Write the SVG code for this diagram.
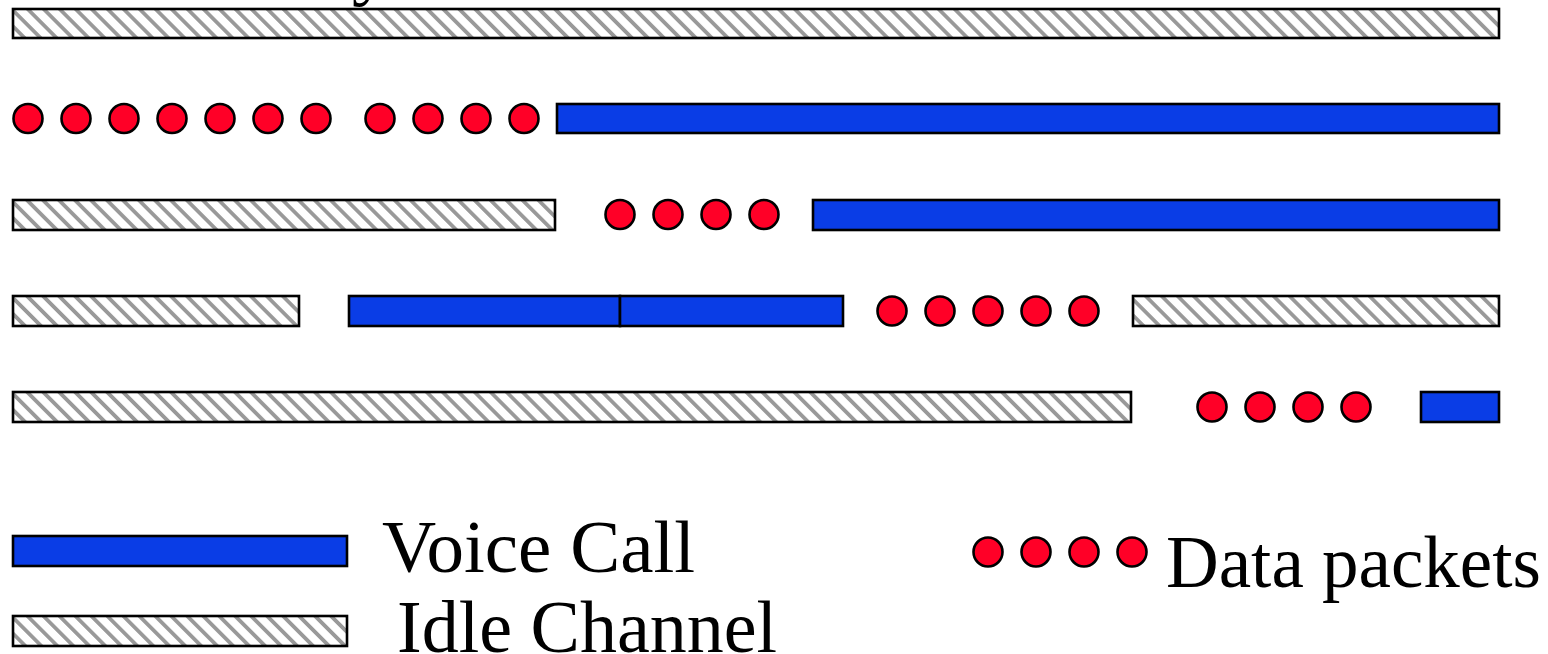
<svg xmlns="http://www.w3.org/2000/svg" width="1548" height="654" viewBox="0 0 1548 654">
<defs>
<pattern id="hatch" patternUnits="userSpaceOnUse" width="11.3" height="11.3" patternTransform="rotate(-45)">
<rect x="0" y="0" width="11.3" height="11.3" fill="#ffffff"/>
<rect x="0" y="0" width="3.8" height="11.3" fill="#999999"/>
</pattern>
</defs>
<style>
.idle{fill:url(#hatch);stroke:#000;stroke-width:2.6}
.voice{fill:#0a3de6;stroke:#000;stroke-width:2.6}
.pkt{fill:#ff0027;stroke:#000;stroke-width:2.6}
.lbl{font-family:"Liberation Serif","Times New Roman",serif;font-size:75px;fill:#000}
</style>
<text class="lbl" x="352" y="-9">y</text>
<g id="row1">
<rect class="idle" x="13" y="9" width="1486" height="29"/>
</g>
<g id="row2">
<circle class="pkt" cx="28" cy="118.5" r="14.5"/>
<circle class="pkt" cx="76" cy="118.5" r="14.5"/>
<circle class="pkt" cx="124" cy="118.5" r="14.5"/>
<circle class="pkt" cx="172" cy="118.5" r="14.5"/>
<circle class="pkt" cx="220" cy="118.5" r="14.5"/>
<circle class="pkt" cx="268" cy="118.5" r="14.5"/>
<circle class="pkt" cx="316" cy="118.5" r="14.5"/>
<circle class="pkt" cx="380" cy="118.5" r="14.5"/>
<circle class="pkt" cx="428" cy="118.5" r="14.5"/>
<circle class="pkt" cx="476" cy="118.5" r="14.5"/>
<circle class="pkt" cx="524" cy="118.5" r="14.5"/>
<rect class="voice" x="557" y="104" width="942" height="29"/>
</g>
<g id="row3">
<rect class="idle" x="13" y="200" width="542" height="30"/>
<circle class="pkt" cx="620" cy="214.5" r="14.5"/>
<circle class="pkt" cx="668" cy="214.5" r="14.5"/>
<circle class="pkt" cx="716" cy="214.5" r="14.5"/>
<circle class="pkt" cx="764" cy="214.5" r="14.5"/>
<rect class="voice" x="813" y="200" width="686" height="30"/>
</g>
<g id="row4">
<rect class="idle" x="13" y="296" width="286" height="30"/>
<rect class="voice" x="349" y="296" width="271" height="30"/>
<rect class="voice" x="620" y="296" width="223" height="30"/>
<circle class="pkt" cx="892" cy="311" r="14.5"/>
<circle class="pkt" cx="940" cy="311" r="14.5"/>
<circle class="pkt" cx="988" cy="311" r="14.5"/>
<circle class="pkt" cx="1036" cy="311" r="14.5"/>
<circle class="pkt" cx="1084" cy="311" r="14.5"/>
<rect class="idle" x="1133" y="296" width="366" height="30"/>
</g>
<g id="row5">
<rect class="idle" x="13" y="392" width="1118" height="30"/>
<circle class="pkt" cx="1212" cy="407" r="14.5"/>
<circle class="pkt" cx="1260" cy="407" r="14.5"/>
<circle class="pkt" cx="1308" cy="407" r="14.5"/>
<circle class="pkt" cx="1356" cy="407" r="14.5"/>
<rect class="voice" x="1421" y="392" width="78" height="30"/>
</g>
<g id="legend-voice">
<rect class="voice" x="13" y="536" width="334" height="30"/>
<text class="lbl" x="382" y="572">Voice Call</text>
</g>
<g id="legend-idle">
<rect class="idle" x="13" y="616" width="334" height="30"/>
<text class="lbl" x="397" y="652" style="font-size:74px">Idle Channel</text>
</g>
<g id="legend-data">
<circle class="pkt" cx="988" cy="552" r="14.5"/>
<circle class="pkt" cx="1036" cy="552" r="14.5"/>
<circle class="pkt" cx="1084" cy="552" r="14.5"/>
<circle class="pkt" cx="1132" cy="552" r="14.5"/>
<text class="lbl" x="1166" y="587" style="font-size:73px">Data packets</text>
</g>
<g id="connectors"/>
</svg>
